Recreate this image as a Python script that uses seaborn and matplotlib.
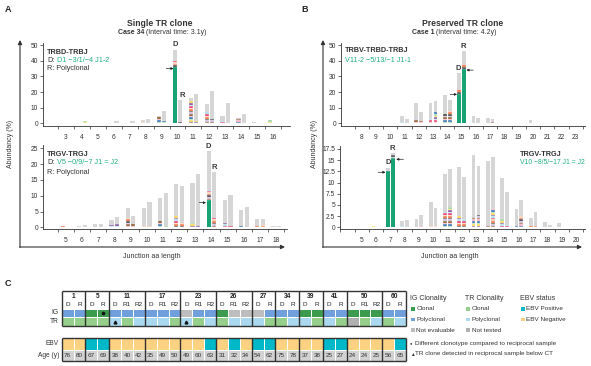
import numpy as np
import matplotlib
matplotlib.use('Agg')
import matplotlib.pyplot as plt
from matplotlib.colors import ListedColormap
from matplotlib.patches import Rectangle, FancyArrowPatch
import seaborn as sns

W, H = 591, 366

# ---------------- data: panel A (case 34) ----------------
a1_len = list(range(3, 17))
a1_D_total = [0, 0.5, 0, 0, 0, 2.0, 5.0, 47, 16, 12.6, 4.7, 3.6, 1.0, 2.0]
a1_D_clone = [0, 0, 0, 0, 0, 0, 0, 36, 0, 0, 0, 0, 0, 0]
a1_D_minor = [0, 0.5, 0, 0, 0, 1.0, 4.0, 4.0, 14, 7.0, 1.5, 3.5, 0.3, 2.0]
a1_R_total = [0, 1.5, 0, 1.2, 1.7, 2.8, 7.7, 15, 18.6, 20.5, 13, 6.2, 0.5, 0]
a1_R_clone = [0] * 14
a1_R_minor = [0, 1.5, 0, 0, 0, 0.5, 1.5, 1.0, 1.5, 3.0, 0.5, 0.3, 0, 0]

a2_len = list(range(5, 19))
a2_D_total = [0.3, 0.5, 1.2, 2.3, 6.1, 6.0, 9.2, 13.7, 13.9, 24, 8.6, 5.4, 2.6, 0.5]
a2_D_clone = [0, 0, 0, 0, 0, 0, 0, 0, 0, 8.6, 0, 0, 0, 0]
a2_D_minor = [0.3, 0, 0, 0.8, 3.0, 0.5, 2.0, 3.5, 1.5, 3.2, 1.5, 0.3, 0.3, 0]
a2_R_total = [0, 0.8, 1.0, 3.4, 3.6, 8.0, 10.8, 13.1, 16.9, 17.4, 10.3, 6.5, 2.6, 0.5]
a2_R_clone = [0] * 14
a2_R_minor = [0, 0, 0, 1.2, 1.0, 0.3, 0.5, 1.5, 0.3, 2.8, 0.3, 0, 0.8, 0]

# ---------------- data: panel B (case 1) ----------------
b1_len = list(range(8, 24))
b1_D_total = [0, 0, 0, 4.7, 13, 13.2, 18, 32, 5.0, 3.4, 0.5, 0, 2.0, 0, 0, 0]
b1_D_clone = [0, 0, 0, 0, 0, 0, 0, 19, 0, 0, 0, 0, 0, 0, 0, 0]
b1_D_minor = [0, 0, 0, 1.0, 3.0, 3.0, 6.0, 2.0, 0.5, 0.3, 0, 0, 0.3, 0, 0, 0]
b1_R_total = [0, 0, 0, 2.8, 7.3, 14, 14.7, 46, 3.6, 2.8, 0, 0.3, 0.5, 0, 0, 0]
b1_R_clone = [0, 0, 0, 0, 0, 0, 0, 35, 0, 0, 0, 0, 0, 0, 0, 0]
b1_R_minor = [0, 0, 0, 0.3, 1.5, 7.0, 8.0, 2.0, 0.3, 1.5, 0, 0, 0, 0, 0, 0]

b2_len = list(range(5, 21))
b2_D_total = [0, 0.2, 13.3, 1.5, 1.9, 5.7, 11.9, 13.4, 16.2, 14.8, 11.1, 4.0, 2.0, 1.2, 0.9, 0.1]
b2_D_clone = [0, 0, 12.6, 0, 0, 0, 0, 0, 0, 0, 0, 0, 0, 0, 0, 0]
b2_D_minor = [0, 0.2, 0.3, 0.3, 0, 0.2, 3.5, 2.5, 2.0, 0.6, 1.8, 0.3, 0.2, 0, 0, 0]
b2_R_total = [0, 0, 16.5, 1.6, 2.7, 4.4, 13.0, 11.2, 13.8, 15.8, 8.0, 6.1, 3.5, 0.6, 0, 0]
b2_R_clone = [0, 0, 15.4, 0, 0, 0, 0, 0, 0, 0, 0, 0, 0, 0, 0, 0]
b2_R_minor = [0, 0, 0.8, 0, 0.4, 0.4, 4.6, 1.8, 2.8, 4.2, 0.6, 2.5, 0.4, 0, 0, 0]

# ---------------- data: panel C table ----------------
case_ids = [1, 5, 11, 17, 23, 26, 27, 34, 39, 41, 50, 60]
case_samples = [['D', 'R'], ['D', 'R'], ['D', 'R1', 'R2'], ['D', 'R1', 'R2'],
                ['D', 'R1', 'R2'], ['D', 'R1', 'R2'], ['D', 'R'], ['D', 'R'],
                ['D', 'R'], ['D', 'R'], ['D', 'R1', 'R2'], ['D', 'R']]
# C = clonal, P = polyclonal, N = not evaluable / not tested
ig_status = list("PP" "CC" "PPP" "PPP" "NPP" "CNN" "NP" "PP" "CC" "PP" "CCC" "PP")
tr_status = list("CC" "CC" "PCP" "PPC" "PCP" "CPP" "PC" "CP" "PC" "PC" "NCP" "CP")
ebv_status = list("nn" "pp" "nnn" "nnn" "nnp" "npn" "pp" "nn" "nn" "pp" "nnn" "np")
ages = [76, 80, 67, 69, 38, 40, 42, 35, 49, 50, 49, 60, 63, 31, 32, 34,
        54, 62, 75, 78, 37, 38, 25, 27, 24, 24, 25, 56, 65]
dot_cols = [3]        # different clonotype (IG row)
tri_cols = [4, 10]    # TR clone detected below CT (TR row)

# ---------------- style ----------------
GREEN = '#19a374'
TXT_GREEN = '#22b07d'
GREY = '#d6d6d6'
DARK = '#333333'
STRIPES = ['#f26b3a', '#f9c8a8', '#e8336d', '#a8d8ea', '#7b4f9d', '#f7d24a',
           '#9bd3a0', '#2f6db3', '#f4a6c0', '#8b5a2b', '#c9b3dd', '#444444']
IG_C, IG_P, NE = '#3d9b4f', '#6fa0dc', '#bdbdbd'
TR_C, TR_P, NT = '#95cf8b', '#aad9ef', '#b0b0b0'
EBV_P, EBV_N, AGE_G = '#00b8c8', '#fad282', '#d2d2d2'

sns.set_theme(style='ticks')
plt.rcParams['font.family'] = ['Liberation Sans', 'DejaVu Sans']
plt.rcParams['axes.linewidth'] = 0.6
plt.rcParams['axes.edgecolor'] = DARK

fig = plt.figure(figsize=(W / 100, H / 100), dpi=100)


def px_axes(l, t, r, b):
    return fig.add_axes([l / W, 1 - b / H, (r - l) / W, (b - t) / H])


bg = px_axes(0, 0, W, H)
bg.set_xlim(0, W)
bg.set_ylim(H, 0)
bg.axis('off')


def txt(x, y, s, size=5, weight='normal', color=DARK, ha='left', va='center', **kw):
    bg.text(x, y, s, fontsize=size, fontweight=weight, color=color, ha=ha, va=va, **kw)


def bg_arrow(p0, p1):
    bg.add_patch(FancyArrowPatch(p0, p1, arrowstyle='-|>', mutation_scale=6,
                                 lw=0.8, color='#333', shrinkA=0, shrinkB=0))


BW = 0.26


def bar_panel(ax, lens, Dt, Dc, Dm, Rt, Rc, Rm, xlim, ylim, yticks, ylabels, seg):
    for off, tot, cl, mi in [(-0.17, Dt, Dc, Dm), (0.17, Rt, Rc, Rm)]:
        for i, (x, t, c, m) in enumerate(zip(lens, tot, cl, mi)):
            xp = x + off
            if c > 0:
                ax.bar(xp, c, BW, color=GREEN, lw=0)
            k = 0
            while m - k * seg > 1e-6:
                h = min(seg, m - k * seg)
                ax.bar(xp, h, BW, bottom=c + k * seg,
                       color=STRIPES[(i * 5 + k) % len(STRIPES)],
                       edgecolor='white', lw=0.2)
                k += 1
            rest = t - c - m
            if rest > 0:
                ax.bar(xp, rest, BW, bottom=c + m, color=GREY, lw=0)
    ax.set_xlim(*xlim)
    ax.set_ylim(*ylim)
    ax.set_xticks(lens)
    ax.set_xticklabels([str(v) for v in lens])
    ax.set_xticks(np.arange(np.ceil(xlim[0] - 0.5) + 0.5, xlim[1], 1), minor=True)
    ax.tick_params(axis='x', which='major', length=0, pad=6, labelsize=4.8, colors=DARK)
    ax.tick_params(axis='x', which='minor', length=2, width=0.5, color=DARK)
    ax.set_yticks(yticks)
    ax.set_yticklabels(ylabels)
    ax.tick_params(axis='y', length=2, width=0.5, pad=1.5, labelsize=4.8, colors=DARK)
    ax.set_facecolor('none')
    sns.despine(ax=ax)


def arrow(ax, x0, x1, y):
    ax.annotate('', xy=(x1, y), xytext=(x0, y),
                arrowprops=dict(arrowstyle='-|>', lw=0.5, color='#222',
                                mutation_scale=3.5, shrinkA=0, shrinkB=0))


def lab(ax, x, y, s):
    ax.text(x, y, s, fontsize=5.5, fontweight='bold', color='#3a3a3a', ha='center', va='center')


t50 = [0, 10, 20, 30, 40, 50]
ax1 = px_axes(43, 42.7, 290, 126)
bar_panel(ax1, a1_len, a1_D_total, a1_D_clone, a1_D_minor, a1_R_total, a1_R_clone, a1_R_minor,
          (1.55, 17.07), (-1.7, 51.5), t50, [str(v) for v in t50], 1.0)
lab(ax1, 9.85, 50.5, 'D')
lab(ax1, 10.3, 17.5, 'R')
arrow(ax1, 9.3, 9.75, 35)

t25 = [0, 5, 10, 15, 20, 25]
ax2 = px_axes(43, 145, 287, 228.7)
bar_panel(ax2, a2_len, a2_D_total, a2_D_clone, a2_D_minor, a2_R_total, a2_R_clone, a2_R_minor,
          (3.6, 18.66), (-0.44, 26.04), t25, [str(v) for v in t25], 0.5)
lab(ax2, 13.8, 25.7, 'D')
lab(ax2, 14.15, 19.0, 'R')
arrow(ax2, 13.25, 13.66, 7.8)

ax3 = px_axes(341, 42.7, 585, 126)
bar_panel(ax3, b1_len, b1_D_total, b1_D_clone, b1_D_minor, b1_R_total, b1_R_clone, b1_R_minor,
          (6.55, 23.65), (-1.7, 51.5), t50, [str(v) for v in t50], 1.0)
lab(ax3, 14.8, 35.0, 'D')
lab(ax3, 15.15, 49.0, 'R')
arrow(ax3, 14.2, 14.68, 18.5)
arrow(ax3, 15.82, 15.34, 34)

t17 = [0, 2.5, 5, 7.5, 10, 12.5, 15, 17.5]
ax4 = px_axes(340, 146, 585, 228.7)
bar_panel(ax4, b2_len, b2_D_total, b2_D_clone, b2_D_minor, b2_R_total, b2_R_clone, b2_R_minor,
          (3.48, 20.63), (-0.31, 18.17), t17, ['0', '2.5', '5', '7.5', '10', '12.5', '15', '17.5'], 0.35)
lab(ax4, 6.85, 14.4, 'D')
lab(ax4, 7.17, 17.6, 'R')
arrow(ax4, 6.15, 6.66, 12.3)
arrow(ax4, 7.92, 7.42, 15.2)

# ---------------- titles / annotations ----------------
txt(8, 10, 'A', 6.5, 'bold', '#222', ha='center')
txt(305, 10, 'B', 6.5, 'bold', '#222', ha='center')
txt(8, 284, 'C', 6.5, 'bold', '#222', ha='center')

txt(160, 24, 'Single TR clone', 6.2, 'bold', ha='center')
txt(144, 33, 'Case 34', 5, 'bold', ha='right')
txt(145.5, 33, '(Interval time: 3.1y)', 5)
txt(463, 24, 'Preserved TR clone', 6.2, 'bold', ha='center')
txt(434, 33, 'Case 1', 5, 'bold', ha='right')
txt(435.5, 33, '(Interval time: 4.2y)', 5)

txt(47, 52, 'TRBD-TRBJ', 5.2, 'bold')
txt(47, 61, 'D:', 5.2)
txt(57, 61, 'D1 \u22123/1/\u22124 J1-2', 5.2, color=TXT_GREEN)
txt(47, 68.5, 'R: Polyclonal', 5.2)

txt(47, 154, 'TRGV-TRGJ', 5.2, 'bold')
txt(47, 163, 'D:', 5.2)
txt(57, 163, 'V5 \u22120/9/\u22127 J1 = J2', 5.2, color=TXT_GREEN)
txt(47, 172, 'R: Polyclonal', 5.2)

txt(345, 51, 'TRBV-TRBD-TRBJ', 5.2, 'bold')
txt(345, 61, 'V11-2 \u22125/13/\u22121 J1-1', 5.2, color=TXT_GREEN)

txt(520, 154, 'TRGV-TRGJ', 5.2, 'bold')
txt(520, 163, 'V10 \u22128/5/\u221217 J1 = J2', 4.9, color=TXT_GREEN)

# outer axis arrows + labels
for x0, x1 in [(20, 285), (323, 582)]:
    bg_arrow((x0, 247.4), (x0, 40))
    bg_arrow((x0 - 0.4, 247), (x1, 247))
txt(11, 144, 'Abundancy (%)', 5, rotation=90, ha='center')
txt(314, 144, 'Abundancy (%)', 5, rotation=90, ha='center')
txt(152, 256, 'Junction aa length', 5, ha='center')
txt(450, 256, 'Junction aa length', 5, ha='center')

# ---------------- panel C table ----------------
ncol = len(ages)
bounds = np.cumsum([0] + [len(s) for s in case_samples])

ig_code = {'C': 1, 'P': 2, 'N': 3}
tr_code = {'C': 4, 'P': 5, 'N': 6}
top_codes = np.zeros((4, ncol))
top_codes[2] = [ig_code[s] for s in ig_status]
top_codes[3] = [tr_code[s] for s in tr_status]

tab1 = px_axes(61.7, 291, 406, 326)
sns.heatmap(top_codes, ax=tab1, cmap=ListedColormap(['white', IG_C, IG_P, NE, TR_C, TR_P, NT]),
            vmin=-0.5, vmax=6.5, cbar=False, linewidths=0.6, linecolor='white',
            xticklabels=False, yticklabels=False)
for cid, samp, b0 in zip(case_ids, case_samples, bounds[:-1]):
    tab1.text(b0 + len(samp) / 2, 0.65, str(cid), fontsize=4.8, fontweight='bold',
              color='#222', ha='center', va='center')
    for j, s in enumerate(samp):
        tab1.text(b0 + j + 0.5, 1.6, s, fontsize=4.6, color='#222', ha='center', va='center')
for c in dot_cols:
    tab1.plot(c + 0.5, 2.5, 'o', ms=1.6, color='#111')
for c in tri_cols:
    tab1.plot(c + 0.5, 3.5, '^', ms=2.0, color='#111')
tab1.vlines(bounds, 0, 4, colors='#333', lw=1.0, clip_on=False)
tab1.hlines([0, 4], 0, ncol, colors='#333', lw=1.0, clip_on=False)

bot_codes = np.array([[0 if e == 'p' else 1 for e in ebv_status], [2] * ncol])
annot = np.array([[''] * ncol, [str(a) for a in ages]])
tab2 = px_axes(61.7, 338, 406, 361)
sns.heatmap(bot_codes, ax=tab2, cmap=ListedColormap([EBV_P, EBV_N, AGE_G]),
            vmin=-0.5, vmax=2.5, cbar=False, linewidths=0.6, linecolor='white',
            annot=annot, fmt='', annot_kws={'fontsize': 4.6, 'color': '#333'},
            xticklabels=False, yticklabels=False)
tab2.vlines(bounds, 0, 2, colors='#333', lw=1.0, clip_on=False)
tab2.hlines([0, 2], 0, ncol, colors='#333', lw=1.0, clip_on=False)

txt(59, 313, 'IG', 4.8, ha='right')
txt(59, 321.6, 'TR', 4.8, ha='right')
txt(59, 343.7, 'EBV', 4.8, ha='right')
txt(59, 355.3, 'Age (y)', 4.8, ha='right')

# legend
legend_groups = [
    (410, 'IG Clonality', [('Clonal', IG_C), ('Polyclonal', IG_P), ('Not evaluable', NE)]),
    (465, 'TR Clonality', [('Clonal', TR_C), ('Polyclonal', TR_P), ('Not tested', NT)]),
    (520, 'EBV status', [('EBV Positive', EBV_P), ('EBV Negative', EBV_N)]),
]
for x, head, items in legend_groups:
    txt(x, 298, head, 5)
    for k, (name, col) in enumerate(items):
        y = 309 + k * 10.5
        bg.add_patch(Rectangle((x + 1, y - 1.8), 3.6, 3.6, color=col, lw=0))
        txt(x + 6.5, y, name, 4.6)
txt(410, 343, '\u25cf', 3.0)
txt(415, 343, 'Different clonotype compared to reciprocal sample', 4.6)
txt(410, 354, '\u25b2', 3.4)
txt(415, 354, 'TR clone detected in reciprocal sample below CT', 4.6)

fig.savefig('out.png', dpi=100)
